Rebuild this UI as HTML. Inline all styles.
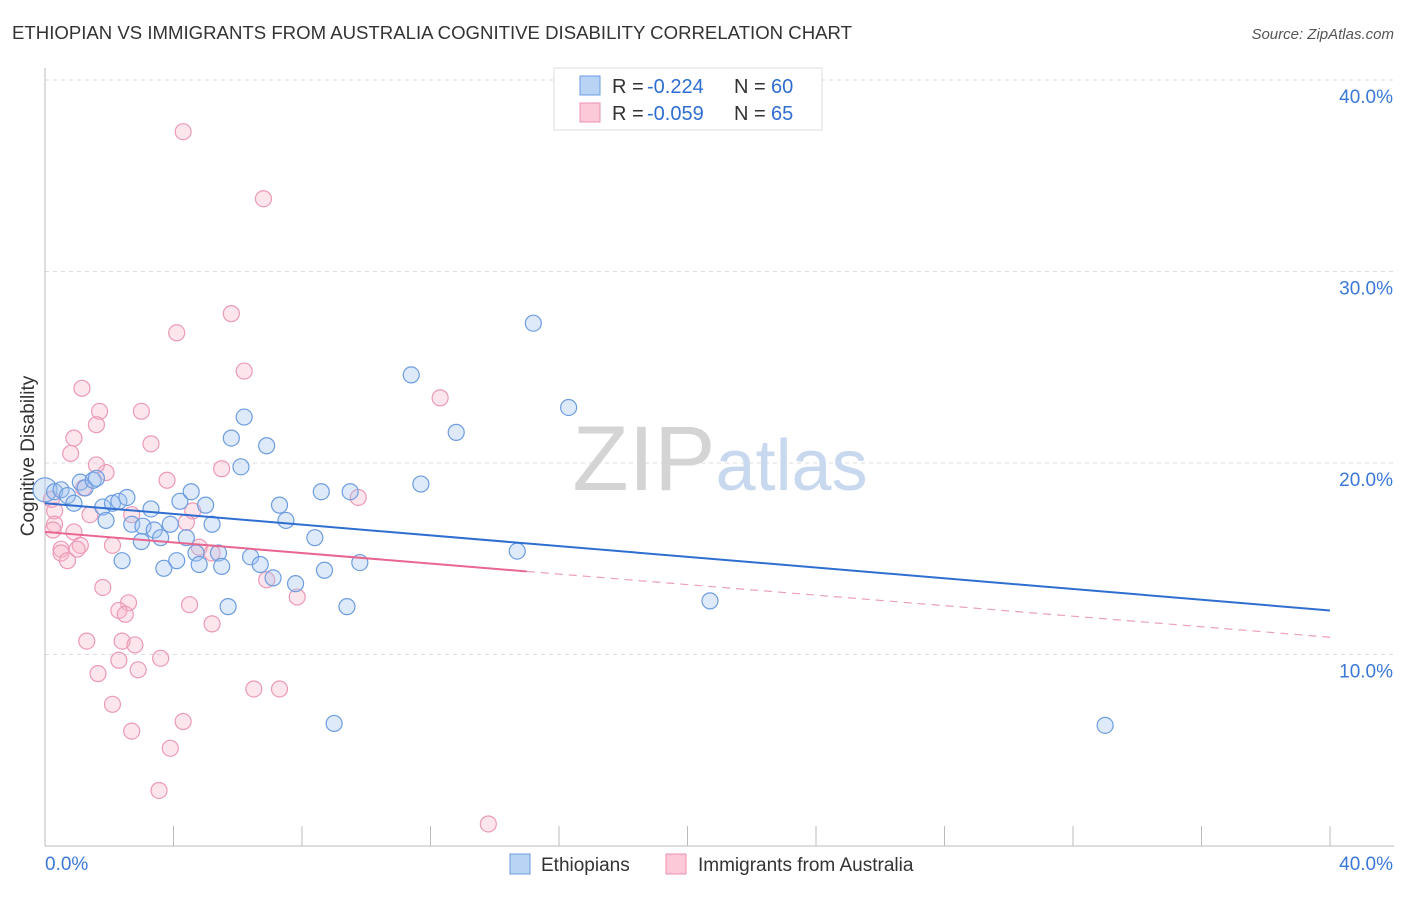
<!DOCTYPE html>
<html><head><meta charset="utf-8"><style>
body{margin:0;background:#fff;font-family:"Liberation Sans",sans-serif;}
svg text{font-family:"Liberation Sans",sans-serif;}
</style></head><body>
<svg id="chart" width="1406" height="892">
<text x="12" y="39" font-size="18" fill="#333" textLength="840" lengthAdjust="spacingAndGlyphs">ETHIOPIAN VS IMMIGRANTS FROM AUSTRALIA COGNITIVE DISABILITY CORRELATION CHART</text>
<text x="1394" y="39" font-size="15" fill="#555" font-style="italic" text-anchor="end">Source: ZipAtlas.com</text>
<text x="34" y="456" font-size="19" fill="#333" text-anchor="middle" transform="rotate(-90 34 456)">Cognitive Disability</text>
<g id="grid"></g>
<g id="axes"></g>
<text x="720" y="490" font-size="92" fill="#d8d8d8" text-anchor="middle" font-family="Liberation Serif"><tspan fill="#d4d4d4">ZIP</tspan><tspan fill="#c8d8ee" font-family="Liberation Sans" font-size="72">atlas</tspan></text>
<g id="pts"></g>
<g id="trend"></g>
<g>
<rect x="554" y="68" width="268" height="62" fill="#fff" stroke="#ddd"/>
<rect x="580" y="76" width="20" height="19" fill="#b9d3f5" stroke="#6a9be0"/>
<rect x="580" y="103" width="20" height="19" fill="#fcc9d8" stroke="#ec8fae"/>
<g>
<text x="612" y="93" font-size="20" fill="#333">R =</text>
<text x="647" y="93" font-size="20" fill="#2f6ed0">-0.224</text>
<text x="734" y="93" font-size="20" fill="#333">N =</text>
<text x="771" y="93" font-size="20" fill="#2f6ed0">60</text>
</g>
<g>
<text x="612" y="120" font-size="20" fill="#333">R =</text>
<text x="647" y="120" font-size="20" fill="#2f6ed0">-0.059</text>
<text x="734" y="120" font-size="20" fill="#333">N =</text>
<text x="771" y="120" font-size="20" fill="#2f6ed0">65</text>
</g>
</g>
<g>
<rect x="510" y="854" width="20" height="20" fill="#b9d3f5" stroke="#6a9be0"/>
<text x="541" y="871" font-size="19" fill="#333">Ethiopians</text>
<rect x="666" y="854" width="20" height="20" fill="#fcc9d8" stroke="#ec8fae"/>
<text x="698" y="871" font-size="19" fill="#333">Immigrants from Australia</text>
</g>
</svg>
<script>
const yTicks=[10,20,30,40];
const yTickLabels=["10.0%","20.0%","30.0%","40.0%"];
const xTickLabels=["0.0%","40.0%"];
const blueX=[0,0.3,0.5,0.7,0.9,1.1,1.25,1.5,1.6,1.8,1.9,2.1,2.3,2.4,2.55,2.7,3.0,3.05,3.3,3.4,3.6,3.7,3.9,4.1,4.2,4.4,4.55,4.7,4.8,5.0,5.2,5.4,5.5,5.7,5.8,6.1,6.2,6.4,6.7,6.9,7.1,7.3,7.5,7.8,8.4,8.6,8.7,9.4,9.0,9.5,9.8,11.4,11.7,12.8,14.7,15.2,16.3,20.7,33.0];
const blueY=[18.6,18.5,18.6,18.3,17.9,19.0,18.7,19.1,19.2,17.7,17.0,17.9,18.0,14.9,18.2,16.8,15.9,16.7,17.6,16.5,16.1,14.5,16.8,14.9,18.0,16.1,18.5,15.3,14.7,17.8,16.8,15.3,14.6,12.5,21.3,19.8,22.4,15.1,14.7,20.9,14.0,17.8,17.0,13.7,16.1,18.5,14.4,12.5,6.4,18.5,14.8,24.6,18.9,21.6,15.4,27.3,22.9,12.8,6.3];
const pinkX=[4.3,6.8,5.8,4.1,6.2,1.15,3.0,1.7,1.6,12.3,0.9,3.3,0.8,1.9,1.6,5.5,3.8,1.2,9.75,0.2,0.3,1.4,2.7,4.6,4.4,0.3,0.25,0.9,2.1,1.1,0.5,0.5,1.0,4.8,0.7,5.2,1.8,6.9,7.85,2.6,4.5,2.3,2.5,5.2,1.3,2.4,2.8,3.6,2.3,2.9,1.65,6.5,7.3,2.1,4.3,2.7,3.9,3.55,13.8];
const pinkY=[37.3,33.8,27.8,26.8,24.8,23.9,22.7,22.7,22.0,23.4,21.3,21.0,20.5,19.5,19.9,19.7,19.1,18.7,18.2,18.1,17.5,17.3,17.3,17.5,16.9,16.8,16.5,16.4,15.7,15.7,15.5,15.3,15.5,15.6,14.9,15.3,13.5,13.9,13.0,12.7,12.6,12.3,12.1,11.6,10.7,10.7,10.5,9.8,9.7,9.2,9.0,8.2,8.2,7.4,6.5,6.0,5.1,2.9,1.15];
const blueTrend=[17.9,12.3];
const pinkTrend=[16.4,10.9];
const pinkSolidEnd=15.0;
const NS="http://www.w3.org/2000/svg";
const X=v=>45+v*32.125, Y=v=>846-v*19.15;
function mk(t,a,p){const e=document.createElementNS(NS,t);for(const k in a)e.setAttribute(k,a[k]);p.appendChild(e);return e;}
const grid=document.getElementById('grid'),axes=document.getElementById('axes');
yTicks.forEach((t,i)=>{
 const l=mk('line',{x1:45,x2:1394,y1:Y(t),y2:Y(t),stroke:'#dcdcdc','stroke-dasharray':'4,4'},grid);
 
 
 const tx=mk('text',{x:1393,y:Y(t)+23,'font-size':19,fill:'#3b78d8','text-anchor':'end'},axes);
 tx.textContent=yTickLabels[i];
 
 
});
mk('line',{x1:45,x2:45,y1:68,y2:846,stroke:'#bbb'},axes);
mk('line',{x1:45,x2:1394,y1:846,y2:846,stroke:'#bbb'},axes);
for(let i=0;i<=10;i++){const x=X(i*4);mk('line',{x1:x,x2:x,y1:826,y2:846,stroke:'#bbb'},axes);}
const xl0=mk('text',{x:45,y:870,'font-size':19,fill:'#3b78d8'},axes);xl0.textContent=xTickLabels[0];


const xl1=mk('text',{x:1393,y:870,'font-size':19,fill:'#3b78d8','text-anchor':'end'},axes);xl1.textContent=xTickLabels[1];


const pts=document.getElementById('pts');
pinkX.forEach((v,i)=>{const c=mk('circle',{cx:X(v),cy:Y(pinkY[i]),r:8,fill:'rgba(248,180,200,0.35)',stroke:'#eb9ab5','stroke-width':1.2},pts);
 
 });
blueX.forEach((v,i)=>{const c=mk('circle',{cx:X(v),cy:Y(blueY[i]),r:i==0?12:8,fill:'rgba(160,195,240,0.35)',stroke:'#6d9de0','stroke-width':1.2},pts);
 
 });
const tr=document.getElementById('trend');
const bl=mk('line',{x1:X(0),y1:Y(blueTrend[0]),x2:X(40),y2:Y(blueTrend[1]),stroke:'#2f6ed0','stroke-width':2},tr);


const py=x=>pinkTrend[0]+(pinkTrend[1]-pinkTrend[0])*x/40;
const ps=mk('line',{x1:X(0),y1:Y(py(0)),x2:X(pinkSolidEnd),y2:Y(py(pinkSolidEnd)),stroke:'#e8668f','stroke-width':2},tr);


const pd=mk('line',{x1:X(pinkSolidEnd),y1:Y(py(pinkSolidEnd)),x2:X(40),y2:Y(py(40)),stroke:'#eba0b8','stroke-width':1.2,'stroke-dasharray':'8,6'},tr);


</script>
</body></html>
